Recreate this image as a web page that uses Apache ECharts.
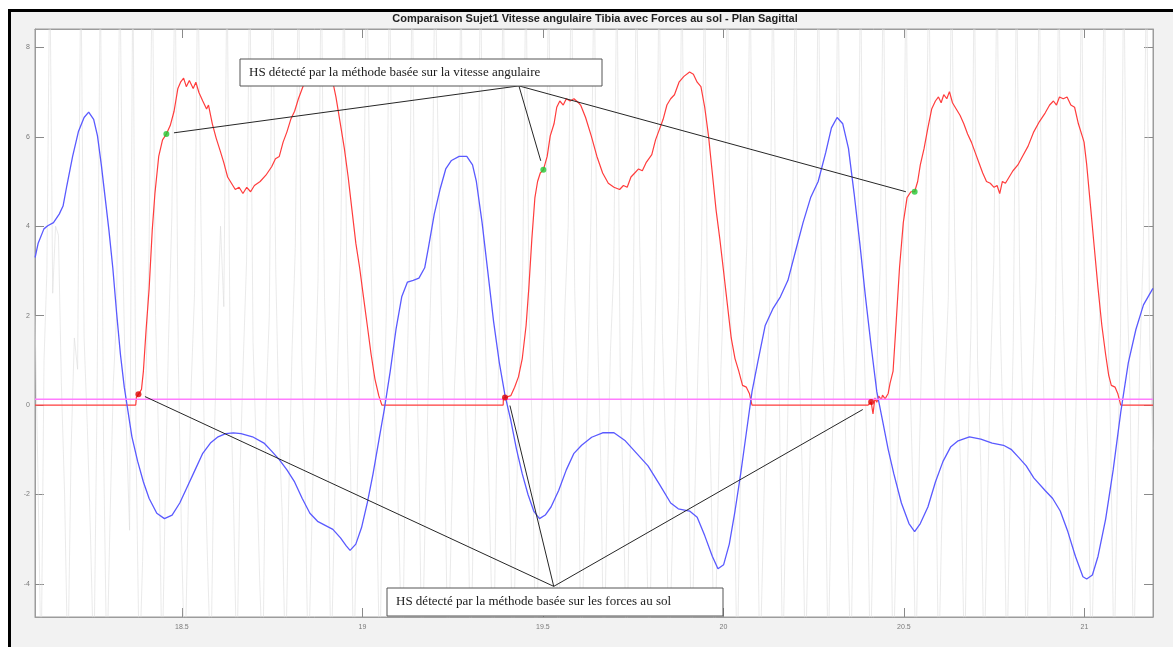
<!DOCTYPE html>
<html>
<head>
<meta charset="utf-8">
<script src="https://cdn.jsdelivr.net/npm/echarts@6/dist/echarts.min.js"></script>
<style>
  html, body { margin: 0; padding: 0; background: #ffffff; }
  #frame { position: absolute; left: 8px; top: 9px; width: 1165px; height: 638px;
           border-left: 3px solid #000; border-top: 3px solid #000;
           background: #f2f2f2; box-sizing: border-box; }
  #chart { position: absolute; left: 0; top: 0; width: 1173px; height: 647px; }
</style>
</head>
<body>
<div id="frame"></div>
<div id="chart"></div>
<script>
// Axis ranges and tick positions
const xRange = [18.093, 21.19];
const yRange = [-4.74, 8.41];
const xTicks = [18.5, 19, 19.5, 20, 20.5, 21];
const yTicks = [-4, -2, 0, 2, 4, 6, 8];

// Tibia angular velocity (sagittal plane) [time s, value]
const angularVelocity = [
  [18.0933,3.30],[18.1018,3.62],[18.1177,3.94],[18.1283,4.01],[18.1442,4.08],[18.1601,4.27],[18.1707,4.45],
  [18.1813,4.91],[18.1972,5.56],[18.2131,6.11],[18.2290,6.43],[18.2417,6.55],[18.2555,6.39],[18.2661,6.02],
  [18.2767,5.37],[18.2873,4.64],[18.2979,3.90],[18.3085,3.07],[18.3191,2.06],[18.3297,1.13],[18.3403,0.40],
  [18.3509,-0.16],[18.3615,-0.71],[18.3774,-1.26],[18.3933,-1.72],[18.4092,-2.09],[18.4304,-2.42],[18.4516,-2.54],
  [18.4728,-2.46],[18.4940,-2.19],[18.5152,-1.82],[18.5365,-1.45],[18.5577,-1.08],[18.5789,-0.85],[18.6001,-0.71],
  [18.6213,-0.64],[18.6425,-0.62],[18.6637,-0.64],[18.6955,-0.71],[18.7273,-0.85],[18.7485,-1.03],[18.7697,-1.22],
  [18.7909,-1.45],[18.8121,-1.72],[18.8333,-2.09],[18.8545,-2.42],[18.8757,-2.60],[18.8969,-2.69],[18.9181,-2.78],
  [18.9393,-2.97],[18.9552,-3.15],[18.9658,-3.25],[18.9817,-3.11],[18.9976,-2.74],[19.0135,-2.19],[19.0294,-1.54],
  [19.0453,-0.80],[19.0612,-0.07],[19.0771,0.76],[19.0930,1.69],[19.1089,2.42],[19.1248,2.75],[19.1407,2.79],
  [19.1566,2.84],[19.1725,3.07],[19.1831,3.53],[19.1990,4.27],[19.2149,4.82],[19.2308,5.28],[19.2467,5.47],
  [19.2679,5.56],[19.2891,5.56],[19.3050,5.37],[19.3156,5.00],[19.3315,4.08],[19.3474,2.98],[19.3633,1.87],
  [19.3792,0.95],[19.3951,0.21],[19.4110,-0.34],[19.4269,-0.99],[19.4428,-1.54],[19.4587,-2.00],[19.4746,-2.37],
  [19.4905,-2.54],[19.5065,-2.46],[19.5224,-2.28],[19.5436,-1.91],[19.5648,-1.45],[19.5860,-1.08],[19.6072,-0.90],
  [19.6350,-0.72],[19.6654,-0.62],[19.6968,-0.62],[19.7282,-0.80],[19.7597,-1.08],[19.7911,-1.36],[19.8225,-1.77],
  [19.8539,-2.19],[19.8749,-2.32],[19.9063,-2.37],[19.9273,-2.51],[19.9482,-2.92],[19.9692,-3.38],[19.9849,-3.66],
  [20.0006,-3.57],[20.0163,-3.11],[20.0321,-2.37],[20.0478,-1.54],[20.0635,-0.62],[20.0792,0.30],[20.0949,0.95],
  [20.1158,1.78],[20.1368,2.15],[20.1578,2.42],[20.1787,2.79],[20.1997,3.44],[20.2206,4.08],[20.2416,4.64],
  [20.2625,5.00],[20.2835,5.65],[20.2992,6.20],[20.3149,6.43],[20.3306,6.29],[20.3464,5.74],[20.3621,4.73],
  [20.3778,3.62],[20.3935,2.42],[20.4092,1.32],[20.4249,0.30],[20.4407,-0.34],[20.4564,-0.99],[20.4721,-1.54],
  [20.4930,-2.19],[20.5140,-2.65],[20.5297,-2.83],[20.5454,-2.65],[20.5664,-2.28],[20.5873,-1.72],[20.6083,-1.26],
  [20.6292,-0.94],[20.6502,-0.80],[20.6816,-0.71],[20.7130,-0.76],[20.7445,-0.85],[20.7759,-0.90],[20.7969,-0.99],
  [20.8178,-1.17],[20.8388,-1.36],[20.8597,-1.63],[20.8911,-1.91],[20.9121,-2.09],[20.9331,-2.37],[20.9540,-2.83],
  [20.9750,-3.38],[20.9959,-3.84],[21.0064,-3.89],[21.0221,-3.80],[21.0378,-3.38],[21.0588,-2.55],[21.0797,-1.45],
  [21.1007,-0.16],[21.1217,0.95],[21.1426,1.69],[21.1636,2.24],[21.1898,2.61]
];

// Vertical ground reaction force (scaled) [time s, value]
const groundForce = [
  [18.093,0],[18.372,0],[18.374,0.17],[18.3796,0.24],[18.388,0.35],[18.3933,0.76],[18.4008,1.69],[18.4092,2.61],
  [18.4177,3.90],[18.4252,4.73],[18.4357,5.56],[18.4463,5.93],[18.4569,6.06],[18.4676,6.25],[18.4782,6.57],
  [18.4888,7.08],[18.4962,7.22],[18.5047,7.31],[18.5121,7.12],[18.5206,7.26],[18.5312,7.08],[18.5386,7.22],
  [18.5471,6.99],[18.5577,6.80],[18.5683,6.62],[18.5736,6.71],[18.5842,6.29],[18.5948,5.97],[18.6054,5.70],
  [18.6160,5.42],[18.6266,5.10],[18.6372,4.96],[18.6478,4.82],[18.6584,4.87],[18.6690,4.73],[18.6796,4.87],
  [18.6902,4.77],[18.7008,4.91],[18.7167,5.00],[18.7326,5.14],[18.7485,5.33],[18.7591,5.51],[18.7697,5.56],
  [18.7803,5.88],[18.7909,6.11],[18.8015,6.39],[18.8121,6.57],[18.8227,6.85],[18.8333,7.08],[18.8439,7.31],
  [18.8598,7.49],[18.8810,7.58],[18.9022,7.49],[18.9181,7.22],[18.9266,6.89],[18.9340,6.53],[18.9425,6.11],
  [18.9499,5.74],[18.9605,5.10],[18.9711,4.36],[18.9817,3.62],[18.9923,3.07],[19.0029,2.42],[19.0135,1.78],
  [19.0241,1.13],[19.0347,0.58],[19.0453,0.21],[19.0538,0],
  [19.3899,0],[19.3905,0.15],[19.3950,0.17],[19.4110,0.21],[19.4216,0.40],[19.4322,0.63],[19.4428,1.04],
  [19.4534,1.78],[19.4609,2.61],[19.4693,3.71],[19.4778,4.64],[19.4852,5.00],[19.4927,5.19],[19.5012,5.26],
  [19.5118,5.56],[19.5203,6.02],[19.5308,6.29],[19.5383,6.66],[19.5468,6.80],[19.5563,6.71],[19.5648,6.85],
  [19.5754,6.80],[19.5860,6.85],[19.5987,6.76],[19.6050,6.70],[19.6182,6.43],[19.6339,6.02],[19.6496,5.56],
  [19.6654,5.19],[19.6811,4.96],[19.6968,4.87],[19.7125,4.82],[19.7230,4.91],[19.7335,4.87],[19.7439,5.10],
  [19.7544,5.19],[19.7649,5.28],[19.7754,5.24],[19.7858,5.42],[19.8016,5.60],[19.8120,5.93],[19.8225,6.16],
  [19.8330,6.39],[19.8435,6.71],[19.8539,6.85],[19.8644,6.94],[19.8770,7.22],[19.8906,7.35],[19.9063,7.45],
  [19.9168,7.40],[19.9273,7.22],[19.9377,7.12],[19.9482,6.66],[19.9587,6.02],[19.9692,5.19],[19.9797,4.36],
  [19.9901,3.71],[20.0006,2.98],[20.0111,2.24],[20.0216,1.50],[20.0321,1.04],[20.0425,0.76],[20.0530,0.44],
  [20.0635,0.40],[20.0719,0.26],[20.0792,0],
  [20.4007,0],[20.4030,0.02],[20.4092,0.07],[20.4144,-0.20],[20.4197,0.16],[20.4249,0.06],[20.4302,0.20],
  [20.4375,0.12],[20.4407,0.22],[20.4480,0.14],[20.4564,0.26],[20.4617,0.49],[20.4700,0.76],[20.4773,1.69],
  [20.4878,3.07],[20.4983,4.08],[20.5087,4.64],[20.5192,4.77],[20.5297,4.77],[20.5381,5.00],[20.5454,5.37],
  [20.5559,5.74],[20.5664,6.20],[20.5769,6.62],[20.5873,6.80],[20.5957,6.89],[20.6031,6.76],[20.6104,6.94],
  [20.6188,6.85],[20.6261,7.01],[20.6345,6.76],[20.6449,6.62],[20.6554,6.48],[20.6659,6.29],[20.6764,6.06],
  [20.6869,5.88],[20.6973,5.65],[20.7078,5.42],[20.7183,5.19],[20.7288,5.00],[20.7392,4.96],[20.7497,4.87],
  [20.7581,4.91],[20.7654,4.73],[20.7728,5.00],[20.7812,4.96],[20.7916,5.10],[20.8021,5.24],[20.8157,5.37],
  [20.8283,5.56],[20.8440,5.79],[20.8597,6.11],[20.8754,6.34],[20.8911,6.53],[20.9037,6.71],[20.9142,6.80],
  [20.9226,6.71],[20.9309,6.89],[20.9414,6.85],[20.9519,6.89],[20.9624,6.71],[20.9728,6.66],[20.9833,6.29],
  [20.9938,6.02],[20.9990,5.88],[21.0064,5.37],[21.0169,4.45],[21.0273,3.53],[21.0378,2.61],[21.0483,1.78],
  [21.0588,1.13],[21.0672,0.67],[21.0745,0.44],[21.0850,0.40],[21.0923,0.26],[21.1007,0],[21.19,0]
];

// Raw gyroscope signal drawn faintly in the background [time s, value]
const rawTime = [
  18.093,18.101,18.110,18.118,18.126,18.134,18.142,18.150,18.158,18.166,18.175,18.184,18.193,18.202,18.211,18.220,
  18.229,18.238,18.247,18.256,18.265,18.274,18.283,18.292,18.301,18.310,18.319,18.328,18.337,18.346,18.355,18.364,
  18.373,18.382,18.391,18.400,18.409,18.418,18.427,18.436,18.445,18.454,18.463,18.472,18.481,18.490,18.499,18.508,
  18.517,18.526,18.535,18.544,18.553,18.562,18.571,18.580,18.589,18.598,18.607,18.616,18.625,18.634,18.643,18.652,
  18.661,18.670,18.679,18.688,18.697,18.706,18.715,18.724,18.733,18.742,18.751,18.760,18.769,18.778,18.787,18.796,
  18.805,18.814,18.823,18.832,18.841,18.850,18.859,18.868,18.877,18.886,18.895,18.904,18.913,18.922,18.931,18.940,
  18.949,18.958,18.967,18.976,18.985,18.994,19.003,19.012,19.021,19.030,19.039,19.048,19.057,19.066,19.075,19.084,
  19.093,19.102,19.111,19.120,19.129,19.138,19.147,19.156,19.165,19.174,19.183,19.192,19.201,19.210,19.219,19.228,
  19.237,19.246,19.255,19.264,19.273,19.282,19.291,19.300,19.309,19.318,19.327,19.336,19.345,19.354,19.363,19.372,
  19.381,19.390,19.399,19.408,19.417,19.426,19.435,19.444,19.453,19.462,19.471,19.480,19.489,19.498,19.507,19.516,
  19.525,19.534,19.543,19.552,19.561,19.570,19.579,19.588,19.597,19.606,19.615,19.624,19.633,19.642,19.651,19.660,
  19.669,19.678,19.687,19.696,19.705,19.714,19.723,19.732,19.741,19.750,19.759,19.768,19.777,19.786,19.795,19.804,
  19.813,19.822,19.831,19.840,19.849,19.858,19.867,19.876,19.885,19.894,19.903,19.912,19.921,19.930,19.939,19.948,
  19.957,19.966,19.975,19.984,19.993,20.002,20.011,20.020,20.029,20.038,20.047,20.056,20.065,20.074,20.083,20.092,
  20.101,20.110,20.119,20.128,20.137,20.146,20.155,20.164,20.173,20.182,20.191,20.200,20.209,20.218,20.227,20.236,
  20.245,20.254,20.263,20.272,20.281,20.290,20.299,20.308,20.317,20.326,20.335,20.344,20.353,20.362,20.371,20.380,
  20.389,20.398,20.407,20.416,20.425,20.434,20.443,20.452,20.461,20.470,20.479,20.488,20.497,20.506,20.515,20.524,
  20.533,20.542,20.551,20.560,20.569,20.578,20.587,20.596,20.605,20.614,20.623,20.632,20.641,20.650,20.659,20.668,
  20.677,20.686,20.695,20.704,20.713,20.722,20.731,20.740,20.749,20.758,20.767,20.776,20.785,20.794,20.803,20.812,
  20.821,20.830,20.839,20.848,20.857,20.866,20.875,20.884,20.893,20.902,20.911,20.920,20.929,20.938,20.947,20.956,
  20.965,20.974,20.983,20.992,21.001,21.010,21.019,21.028,21.037,21.046,21.055,21.064,21.073,21.082,21.091,21.100,
  21.109,21.118,21.127,21.136,21.145,21.154,21.163,21.172,21.181,21.190
];
const rawValues = [
  2.0,-1.5,-6,1.0,3.0,10,2.5,4.0,3.8,0.5,-2.0,-6,-1.0,1.5,0.8,10,
  1.5,-0.5,-3.0,-6,0.2,10,-1.0,-6,-2.5,0.5,2.0,10,3.0,-0.5,-2.8,10,
  -1.0,-6,-3.5,0.5,3.5,10,2.0,-1.0,-6,-2.0,1.5,4.2,10,1.0,-3.0,-6,
  -2.5,0.5,2.5,10,4.0,-0.8,-3.5,-6,-1.0,1.8,4.0,2.2,10,0.6,-2.2,-6,
  -1.5,1.0,3.2,10,1.4,-1.0,-3.8,-6,0.0,2.0,10,3.0,-0.5,-2.5,-6,-2.0,
  1.2,3.5,10,1.0,-1.8,-6,-3.0,0.2,2.8,10,2.4,-0.6,-6,-2.6,0.8,3.6,
  10,1.6,-1.4,-6,-2.2,1.4,4.0,10,4.4,0.8,-2.0,-6,-1.2,2.0,10,3.0,
  -0.4,-3.2,-6,-0.6,2.6,10,1.8,-1.0,-6,-2.4,0.6,3.4,10,5.7,2.0,-1.2,
  -6,-2.8,0.4,2.2,10,1.2,-1.6,-6,-1.8,1.8,10,3.2,0.0,-3.0,-6,-1.0,
  2.4,10,1.0,-2.0,-6,-2.4,0.8,3.0,10,2.0,-0.8,-6,-3.0,0.2,2.8,10,
  1.4,-1.6,-6,-1.2,2.2,4.0,10,2.6,-0.4,-6,-2.8,0.6,4.2,10,1.8,-1.2,
  -6,-2.0,1.2,3.0,10,0.8,-2.2,-6,-1.4,2.0,10,3.6,0.4,-2.6,-6,-1.0,
  2.6,10,1.6,-1.0,-6,-3.2,0.2,2.4,10,2.2,-0.6,-6,-2.0,1.0,3.2,10,
  1.0,-1.8,-6,-2.6,0.8,2.8,10,2.0,-1.2,-6,-1.6,1.6,3.6,10,1.4,-0.8,
  -6,-3.0,0.4,2.2,10,3.4,0.2,-6,-2.2,1.2,3.8,10,1.2,-1.4,-6,-2.4,
  0.6,2.6,10,2.4,-0.2,-6,-1.8,1.4,10,3.0,0.6,-2.8,-6,-1.0,2.2,10,
  1.6,-1.2,-6,-2.2,0.8,3.0,10,2.0,-0.6,-6,-3.0,0.4,2.6,10,1.2,-1.6,
  -6,-1.4,1.8,4.0,10,2.8,-0.2,-6,-2.6,0.6,2.4,10,3.4,0.4,-2.0,-6,
  -1.2,1.8,10,1.0,-1.4,-6,-2.4,0.8,3.2,10,1.8,-1.0,-6,-2.0,1.4,10,
  2.6,-0.4,-6,-2.8,0.6,2.8,10,1.4,-1.8,-6,-1.6,2.0,10,3.2,0.2,-2.2,
  -6,-1.0,2.4,10,1.6,-1.2,-6,-2.6,0.8,3.0,10,2.2,-0.8,-6,-1.8,1.6,
  10,2.8,0.0,-6,-2.2,1.2,3.4,10,1.4,-1.0
];

// Detection threshold on the force signal
const forceThreshold = 0.13;

// Heel strikes detected from angular velocity (on force curve) and from force
const hsVelocity = [[18.4569,6.06],[19.5012,5.26],[20.5297,4.77]];
const hsForce = [[18.3796,0.24],[19.3950,0.17],[20.4092,0.07]];

// Annotation arrow anchors (box edge) and arrow tips, data coordinates
const velocityAnchor = [19.4335, 7.138];
const velocityTips = [[18.478,6.088],[19.494,5.462],[20.5055,4.770]];
const forceAnchor = [19.530, -4.055];
const forceTips = [[18.3975,0.19],[19.4086,-0.011],[20.386,-0.10]];

const titleText = 'Comparaison Sujet1 Vitesse angulaire Tibia avec Forces au sol - Plan Sagittal';
const velocityNote = 'HS détecté par la méthode basée sur la vitesse angulaire';
const forceNote = 'HS détecté par la méthode basée sur les forces au sol';

const rawSignal = rawTime.map((t, i) => [t, rawValues[i]]);

const chart = echarts.init(document.getElementById('chart'), null, { renderer: 'canvas' });

const axisGray = '#9c9c9c';
const labelStyle = { fontSize: 7, color: '#7a7a7a', fontFamily: 'Liberation Sans, Arial, sans-serif' };

function arrowLines(anchor, tips) {
  return tips.map(t => [{ coord: anchor }, { coord: t }]);
}

function frameAxis(kind, position, range, ticks, withLabels, margin) {
  return {
    type: 'value', min: range[0], max: range[1], position: position,
    axisLine: { show: true, onZero: false, lineStyle: { color: axisGray } },
    axisTick: { show: true, inside: true, length: 9, customValues: ticks, lineStyle: { color: '#8a8a8a' } },
    axisLabel: withLabels
      ? { show: true, customValues: ticks, margin: margin, ...labelStyle, formatter: v => String(v) }
      : { show: false },
    splitLine: { show: false }
  };
}

const option = {
  animation: false,
  backgroundColor: 'transparent',
  grid: { left: 35, top: 29, right: 20, bottom: 30, show: true,
          backgroundColor: '#ffffff', borderColor: axisGray, borderWidth: 1 },
  xAxis: [
    frameAxis('x', 'bottom', xRange, xTicks, true, 7),
    frameAxis('x', 'top', xRange, xTicks, false, 0)
  ],
  yAxis: [
    frameAxis('y', 'left', yRange, yTicks, true, 5),
    frameAxis('y', 'right', yRange, yTicks, false, 0)
  ],
  series: [
    { name: 'raw', type: 'line', data: rawSignal, showSymbol: false, silent: true, z: 1,
      lineStyle: { color: '#dcdcdc', width: 0.6 } },
    { name: 'force', type: 'line', data: groundForce, showSymbol: false, silent: true, z: 3,
      lineStyle: { color: '#ff3d3d', width: 1.2 } },
    { name: 'velocity', type: 'line', data: angularVelocity, showSymbol: false, silent: true, z: 3,
      lineStyle: { color: '#5a5aff', width: 1.3 } },
    { name: 'threshold', type: 'line', data: [[xRange[0], forceThreshold], [xRange[1], forceThreshold]],
      showSymbol: false, silent: true, z: 4, lineStyle: { color: '#ff7dff', width: 1.6 } },
    { name: 'hsForce', type: 'scatter', data: hsForce, symbol: 'circle', symbolSize: 6, z: 6,
      itemStyle: { color: '#dd0000' } },
    { name: 'hsVelocity', type: 'scatter', data: hsVelocity, symbol: 'circle', symbolSize: 6, z: 6,
      itemStyle: { color: '#22c832' } },
    { name: 'arrows', type: 'line', data: [], z: 8, silent: true,
      markLine: { silent: true, symbol: ['none', 'arrow'], symbolSize: [0, 8], animation: false,
                  label: { show: false }, lineStyle: { color: '#262626', width: 1, type: 'solid' },
                  emphasis: { disabled: true },
                  data: arrowLines(velocityAnchor, velocityTips).concat(arrowLines(forceAnchor, forceTips)) } }
  ],
  graphic: [
    { type: 'text', x: 595, y: 19, z: 100,
      style: { text: titleText, fill: '#222', align: 'center', verticalAlign: 'middle',
               font: 'bold 11px "Liberation Sans", Arial, sans-serif' } },
    { type: 'rect', x: 240, y: 59, z: 100, shape: { x: 0, y: 0, width: 362, height: 27 },
      style: { fill: '#ffffff', stroke: '#555', lineWidth: 1 } },
    { type: 'text', x: 249, y: 72.5, z: 101,
      style: { text: velocityNote, fill: '#1a1a1a', verticalAlign: 'middle',
               font: '13px "Liberation Serif", "Times New Roman", serif' } },
    { type: 'rect', x: 387, y: 588, z: 100, shape: { x: 0, y: 0, width: 336, height: 28 },
      style: { fill: '#ffffff', stroke: '#555', lineWidth: 1 } },
    { type: 'text', x: 396, y: 602, z: 101,
      style: { text: forceNote, fill: '#1a1a1a', verticalAlign: 'middle',
               font: '13px "Liberation Serif", "Times New Roman", serif' } }
  ]
};

chart.setOption(option);
</script>
</body>
</html>
